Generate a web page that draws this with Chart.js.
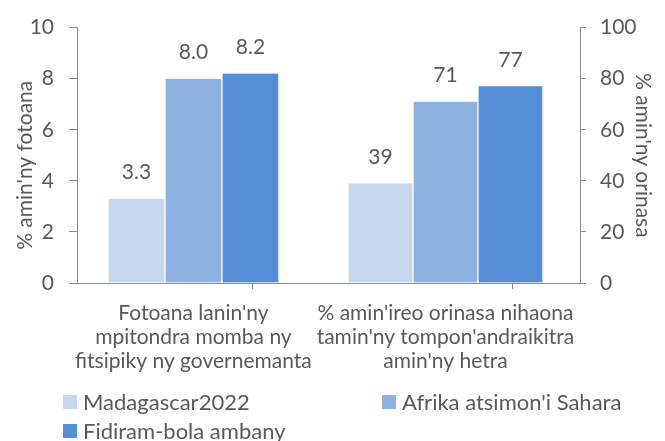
<!DOCTYPE html>
<html>
<head>
<meta charset="utf-8">
<script src="https://cdn.jsdelivr.net/npm/chart.js@4/dist/chart.umd.min.js"></script>
<style>
	html, body { margin: 0; padding: 0; background: #fff; }
	canvas { display: block; }
</style>
</head>
<body>
<canvas id="chart" width="665" height="441"></canvas>
<script>
// categories (one per value axis)
const categories = [
	["Fotoana lanin'ny", 'mpitondra momba ny', 'fitsipiky ny governemanta'],
	["% amin'ireo orinasa nihaona", "tamin'ny tompon'andraikitra", "amin'ny hetra"]
];
const seriesNames = ['Madagascar2022', "Afrika atsimon'i Sahara", 'Fidiram-bola ambany'];
// left axis: % amin'ny fotoana
const timeShare = [3.3, 8.0, 8.2];
// right axis: % amin'ny orinasa
const firmShare = [39, 71, 77];
const leftTitle = "% amin'ny fotoana";
const rightTitle = "% amin'ny orinasa";

const colors = ['#C6D8F0', '#8EB3E2', '#558ED5'];
const textColor = '#595959';
const axisColor = '#8C8C8C';
const fontFamily = 'Lato, "Open Sans", sans-serif';
const fontSize = 21;

function buildDatasets() {
	const sets = [];
	seriesNames.forEach(function(name, i) {
		sets.push({
			label: name,
			data: [{x: 0, y: timeShare[i]}, {x: 1, y: null}],
			yAxisID: 'y',
			stack: 'a' + i,
			backgroundColor: colors[i],
			borderColor: '#ffffff',
			borderWidth: {left: 1, right: 1, top: 0, bottom: 0},
			borderSkipped: false,
			barThickness: 57,
			decimals: 1
		});
	});
	seriesNames.forEach(function(name, i) {
		sets.push({
			label: name,
			data: [{x: 0, y: null}, {x: 1, y: firmShare[i]}],
			yAxisID: 'y1',
			stack: 'b' + i,
			backgroundColor: colors[i],
			borderColor: '#ffffff',
			borderWidth: {left: 1, right: 1, top: 0, bottom: 0},
			borderSkipped: false,
			barThickness: 65,
			decimals: 0
		});
	});
	return sets;
}

// value labels above the bars
const valueLabels = {
	id: 'valueLabels',
	afterDatasetsDraw(chart) {
		const ctx = chart.ctx;
		ctx.save();
		ctx.font = fontSize + 'px ' + fontFamily;
		ctx.fillStyle = textColor;
		ctx.textAlign = 'center';
		ctx.textBaseline = 'middle';
		chart.data.datasets.forEach(function(ds, di) {
			const meta = chart.getDatasetMeta(di);
			meta.data.forEach(function(bar, i) {
				const v = ds.data[i].y;
				if (v === null) {
					return;
				}
				ctx.fillText(v.toFixed(ds.decimals), bar.x, bar.y - 26);
			});
		});
		ctx.restore();
	}
};

// left axis title sits a little below the plot middle in the original
const leftAxisTitle = {
	id: 'leftAxisTitle',
	afterDraw(chart) {
		const ctx = chart.ctx;
		const area = chart.chartArea;
		ctx.save();
		ctx.translate(25, (area.top + area.bottom) / 2 + 10);
		ctx.rotate(-Math.PI / 2);
		ctx.font = fontSize + 'px ' + fontFamily;
		ctx.fillStyle = textColor;
		ctx.textAlign = 'center';
		ctx.textBaseline = 'middle';
		ctx.fillText(leftTitle, 0, 0);
		ctx.restore();
	}
};

// legend laid out in two columns like the original
const columnLegend = {
	id: 'columnLegend',
	afterDraw(chart) {
		const ctx = chart.ctx;
		const slots = [[63, 402], [382, 402], [63, 431]];
		ctx.save();
		ctx.font = (fontSize + 1) + 'px ' + fontFamily;
		ctx.textBaseline = 'middle';
		ctx.textAlign = 'left';
		seriesNames.forEach(function(name, i) {
			const x = slots[i][0];
			const y = slots[i][1];
			ctx.fillStyle = colors[i];
			ctx.fillRect(x, y - 7, 14, 14);
			ctx.fillStyle = textColor;
			ctx.fillText(name, x + 20, y + 1);
		});
		ctx.restore();
	}
};

const xMin = -0.462;
const xMax = 1.534;
const xSplit = 0.466;

new Chart(document.getElementById('chart').getContext('2d'), {
	type: 'bar',
	data: {datasets: buildDatasets()},
	plugins: [valueLabels, leftAxisTitle, columnLegend],
	options: {
		responsive: false,
		animation: false,
		skipNull: true,
		layout: {padding: {top: 24, left: 0, right: 0, bottom: 0}},
		plugins: {
			legend: {display: false},
			tooltip: {enabled: false}
		},
		scales: {
			x: {
				type: 'linear',
				min: xMin,
				max: xMax,
				offset: false,
				stacked: false,
				afterBuildTicks(scale) {
					scale.ticks = [xMin, 0, xSplit, 1, xMax].map(function(v) {
						return {value: v};
					});
				},
				afterFit(scale) {
					scale.height = 158;
				},
				grid: {
					drawOnChartArea: false,
					tickLength: 6,
					color(ctx) {
						return (ctx.index === 1 || ctx.index === 3) ? 'rgba(0,0,0,0)' : axisColor;
					}
				},
				border: {display: true, color: axisColor, width: 1},
				ticks: {
					autoSkip: false,
					maxRotation: 0,
					minRotation: 0,
					padding: 12,
					color: textColor,
					font: {family: fontFamily, size: fontSize, lineHeight: 1.15},
					callback(value) {
						if (value === 0) {
							return categories[0];
						}
						if (value === 1) {
							return categories[1];
						}
						return '';
					}
				}
			},
			y: {
				position: 'left',
				min: 0,
				max: 10,
				stacked: false,
				afterFit(scale) {
					scale.width = 77;
				},
				grid: {drawOnChartArea: false, tickLength: 8, color: axisColor},
				border: {display: true, color: axisColor, width: 1},
				ticks: {
					stepSize: 2,
					padding: 15,
					color: textColor,
					font: {family: fontFamily, size: fontSize}
				}
			},
			y1: {
				position: 'right',
				min: 0,
				max: 100,
				stacked: false,
				afterFit(scale) {
					scale.width = 85;
				},
				grid: {drawOnChartArea: false, tickLength: 6, color: axisColor},
				border: {display: true, color: axisColor, width: 1},
				ticks: {
					stepSize: 20,
					padding: 14,
					color: textColor,
					font: {family: fontFamily, size: fontSize}
				},
				title: {
					display: true,
					text: rightTitle,
					color: textColor,
					padding: {top: 10, bottom: 0},
					font: {family: fontFamily, size: fontSize}
				}
			}
		}
	}
});
</script>
</body>
</html>
